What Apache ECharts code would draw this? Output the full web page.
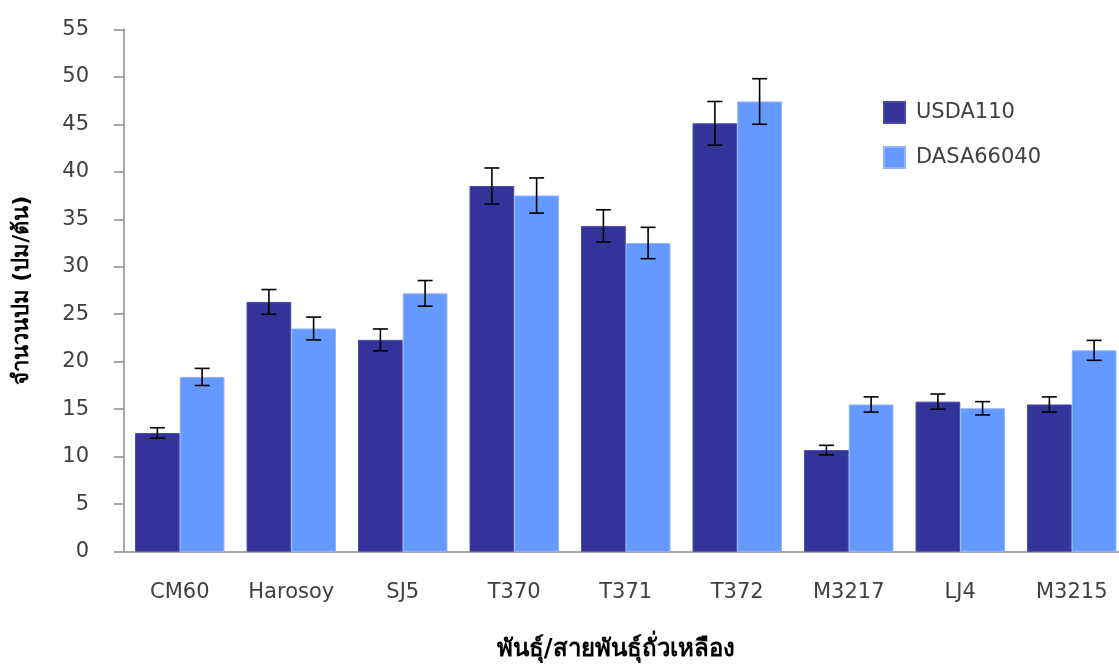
<!DOCTYPE html>
<html>
<head>
<meta charset="utf-8">
<script src="https://cdn.jsdelivr.net/npm/echarts@6/dist/echarts.min.js"></script>
<style>html,body{margin:0;padding:0;background:#fff;}#c{width:1119px;height:665px;}</style>
</head>
<body>
<div id="c"></div>
<script>
const categories = ['CM60','Harosoy','SJ5','T370','T371','T372','M3217','LJ4','M3215'];
const seriesNames = ['USDA110','DASA66040'];
const usdaValues = [12.5, 26.3, 22.3, 38.5, 34.3, 45.1, 10.7, 15.8, 15.5];
const usdaErrors = [0.55, 1.3, 1.15, 1.9, 1.7, 2.3, 0.5, 0.8, 0.8];
const dasaValues = [18.4, 23.5, 27.2, 37.5, 32.5, 47.4, 15.5, 15.1, 21.2];
const dasaErrors = [0.9, 1.2, 1.35, 1.85, 1.65, 2.4, 0.8, 0.7, 1.05];
const yTicks = {min: 0, max: 55, interval: 5};

const colors = ['#333399', '#6699FF'];
const catGap = 0.198;
const font = '"DejaVu Sans", "Noto Sans", sans-serif';

function errData(vals, errs) {
  return vals.map((v, i) => [i, v - errs[i], v + errs[i]]);
}
function errSeries(name, vals, errs, sideIdx) {
  return {
    type: 'custom',
    name: name + ' err',
    z: 10,
    silent: true,
    data: errData(vals, errs),
    renderItem: function (params, api) {
      const cat = api.value(0);
      const lo = api.coord([cat, api.value(1)]);
      const hi = api.coord([cat, api.value(2)]);
      const cw = api.size([1, 0])[0];
      const bw = cw * (1 - catGap) / 2;
      const x = lo[0] + (sideIdx === 0 ? -bw / 2 : bw / 2);
      const cap = 7.5;
      const st = {stroke: '#000', lineWidth: 1.6};
      return {
        type: 'group',
        children: [
          {type: 'line', shape: {x1: x, y1: lo[1], x2: x, y2: hi[1]}, style: st},
          {type: 'line', shape: {x1: x - cap, y1: lo[1], x2: x + cap, y2: lo[1]}, style: st},
          {type: 'line', shape: {x1: x - cap, y1: hi[1], x2: x + cap, y2: hi[1]}, style: st}
        ]
      };
    }
  };
}

const chart = echarts.init(document.getElementById('c'));
chart.setOption({
  animation: false,
  backgroundColor: '#fff',
  textStyle: {fontFamily: font},
  grid: {left: 124, top: 29.3, width: 1003.5, height: 522.4, containLabel: false, outerBoundsMode: 'none'},
  legend: {
    orient: 'vertical',
    left: 878, top: 96,
    itemWidth: 21, itemHeight: 21, itemGap: 22,
    icon: 'rect',
    data: seriesNames,
    textStyle: {fontFamily: font, fontSize: 21, color: '#404040', padding: [0, 0, 0, 6]}
  },
  xAxis: {
    type: 'category',
    data: categories,
    axisLine: {lineStyle: {color: '#8c8c8c', width: 1.5}},
    axisTick: {show: false},
    axisLabel: {color: '#404040', fontSize: 21, margin: 30, fontFamily: font, interval: 0, hideOverlap: false},
    name: 'พันธุ์/สายพันธุ์ถั่วเหลือง',
    nameLocation: 'middle',
    nameGap: 86,
    nameTextStyle: {fontSize: 24, fontWeight: 'bold', color: '#000', padding: [0, 20, 0, 0], fontFamily: font}
  },
  yAxis: {
    type: 'value',
    min: yTicks.min, max: yTicks.max, interval: yTicks.interval,
    axisLine: {show: true, lineStyle: {color: '#8c8c8c', width: 1.5}},
    axisTick: {show: true, length: 10, lineStyle: {color: '#8c8c8c', width: 1.5}},
    splitLine: {show: false},
    axisLabel: {color: '#404040', fontSize: 21, margin: 35, fontFamily: font},
    name: 'จำนวนปม (ปม/ต้น)',
    nameLocation: 'middle',
    nameGap: 91,
    nameRotate: 90,
    nameTextStyle: {fontSize: 22, fontWeight: 'bold', color: '#000', fontFamily: font}
  },
  series: [
    {name: seriesNames[0], type: 'bar', data: usdaValues, barGap: '0%', barCategoryGap: (catGap * 100) + '%',
     itemStyle: {color: colors[0], borderColor: '#4848aa', borderWidth: 1}},
    {name: seriesNames[1], type: 'bar', data: dasaValues, barGap: '0%', barCategoryGap: (catGap * 100) + '%',
     itemStyle: {color: colors[1], borderColor: '#8fb3ff', borderWidth: 1}},
    errSeries(seriesNames[0], usdaValues, usdaErrors, 0),
    errSeries(seriesNames[1], dasaValues, dasaErrors, 1)
  ]
});
</script>
</body>
</html>
